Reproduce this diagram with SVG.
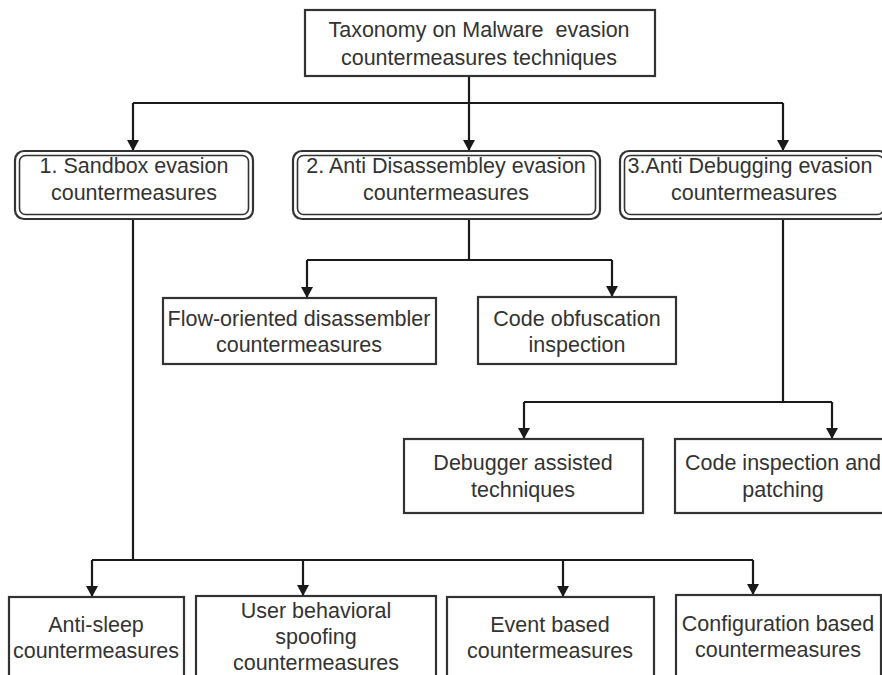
<svg xmlns="http://www.w3.org/2000/svg" width="882" height="675" viewBox="0 0 882 675">
  <defs>
    <marker id="arrow" viewBox="0 0 11 12" refX="11" refY="6" markerWidth="11" markerHeight="12" markerUnits="userSpaceOnUse" orient="auto">
      <path d="M0,0 L11,6 L0,12 Z" fill="#1a1a1a"/>
    </marker>
    <style>
      .box { fill: #ffffff; stroke: #333333; stroke-width: 2.2; }
      .outer { fill: #ffffff; stroke: #333333; stroke-width: 2.2; }
      .inner { fill: none; stroke: #333333; stroke-width: 1.6; }
      .lbl { font-family: "Liberation Sans", Arial, sans-serif; font-size: 21.5px; fill: #333333; text-anchor: middle; white-space: pre; }
      .wire { fill: none; stroke: #1a1a1a; stroke-width: 2.2; }
      .arr { fill: none; stroke: #1a1a1a; stroke-width: 2.2; marker-end: url(#arrow); }
    </style>
  </defs>
  <rect width="882" height="675" fill="#ffffff"/>

  <!-- connectors -->
  <g id="connectors">
    <path class="wire" d="M469,76 V103 M133,103 H783"/>
    <path class="arr" d="M133,103 V151"/>
    <path class="arr" d="M469,103 V151"/>
    <path class="arr" d="M783,103 V151"/>

    <path class="wire" d="M469,219 V260 M307,260 H612"/>
    <path class="arr" d="M307,260 V298"/>
    <path class="arr" d="M612,260 V297"/>

    <path class="wire" d="M783,219 V402 M524,402 H832"/>
    <path class="arr" d="M524,402 V439"/>
    <path class="arr" d="M832,402 V439"/>

    <path class="wire" d="M133,219 V560 M92,560 H753"/>
    <path class="arr" d="M92,560 V597"/>
    <path class="arr" d="M303,560 V596"/>
    <path class="arr" d="M563,560 V597"/>
    <path class="arr" d="M753,560 V595"/>
  </g>

  <!-- root -->
  <g id="root">
    <rect class="box" x="305" y="10" width="350" height="66"/>
    <text class="lbl" x="479" y="37" xml:space="preserve">Taxonomy on Malware  evasion</text>
    <text class="lbl" x="479" y="65">countermeasures techniques</text>
  </g>

  <!-- first level: double-bordered rounded boxes -->
  <g id="sandbox">
    <rect class="outer" x="15" y="151" width="238" height="68" rx="9"/>
    <rect class="inner" x="19.5" y="155.5" width="229" height="59" rx="6"/>
    <text class="lbl" x="134" y="173">1. Sandbox evasion</text>
    <text class="lbl" x="134" y="200">countermeasures</text>
  </g>
  <g id="anti-disassembly">
    <rect class="outer" x="293" y="151" width="307" height="68" rx="9"/>
    <rect class="inner" x="297.5" y="155.5" width="298" height="59" rx="6"/>
    <text class="lbl" x="446" y="173">2. Anti Disassembley evasion</text>
    <text class="lbl" x="446" y="200">countermeasures</text>
  </g>
  <g id="anti-debugging">
    <rect class="outer" x="620" y="151" width="268" height="68" rx="9"/>
    <rect class="inner" x="624.5" y="155.5" width="259" height="59" rx="6"/>
    <text class="lbl" x="750" y="173">3.Anti Debugging evasion</text>
    <text class="lbl" x="754" y="200">countermeasures</text>
  </g>

  <!-- anti-disassembly children -->
  <g id="flow-oriented">
    <rect class="box" x="163" y="298" width="273" height="66"/>
    <text class="lbl" x="299" y="326">Flow-oriented disassembler</text>
    <text class="lbl" x="299" y="352">countermeasures</text>
  </g>
  <g id="code-obfuscation">
    <rect class="box" x="478" y="297" width="198" height="67"/>
    <text class="lbl" x="577" y="326">Code obfuscation</text>
    <text class="lbl" x="577" y="352">inspection</text>
  </g>

  <!-- anti-debugging children -->
  <g id="debugger-assisted">
    <rect class="box" x="404" y="439" width="239" height="74"/>
    <text class="lbl" x="523" y="470">Debugger assisted</text>
    <text class="lbl" x="523" y="497">techniques</text>
  </g>
  <g id="code-inspection">
    <rect class="box" x="675" y="439" width="216" height="74"/>
    <text class="lbl" x="783" y="470">Code inspection and</text>
    <text class="lbl" x="783" y="497">patching</text>
  </g>

  <!-- sandbox children -->
  <g id="anti-sleep">
    <rect class="box" x="9" y="597" width="175" height="100"/>
    <text class="lbl" x="96" y="632">Anti-sleep</text>
    <text class="lbl" x="96" y="658">countermeasures</text>
  </g>
  <g id="user-behavioral">
    <rect class="box" x="196" y="596" width="240" height="100"/>
    <text class="lbl" x="316" y="618">User behavioral</text>
    <text class="lbl" x="316" y="644">spoofing</text>
    <text class="lbl" x="316" y="670">countermeasures</text>
  </g>
  <g id="event-based">
    <rect class="box" x="447" y="597" width="207" height="100"/>
    <text class="lbl" x="550" y="632">Event based</text>
    <text class="lbl" x="550" y="658">countermeasures</text>
  </g>
  <g id="configuration-based">
    <rect class="box" x="676" y="595" width="205" height="100"/>
    <text class="lbl" x="778" y="631">Configuration based</text>
    <text class="lbl" x="778" y="657">countermeasures</text>
  </g>
</svg>
